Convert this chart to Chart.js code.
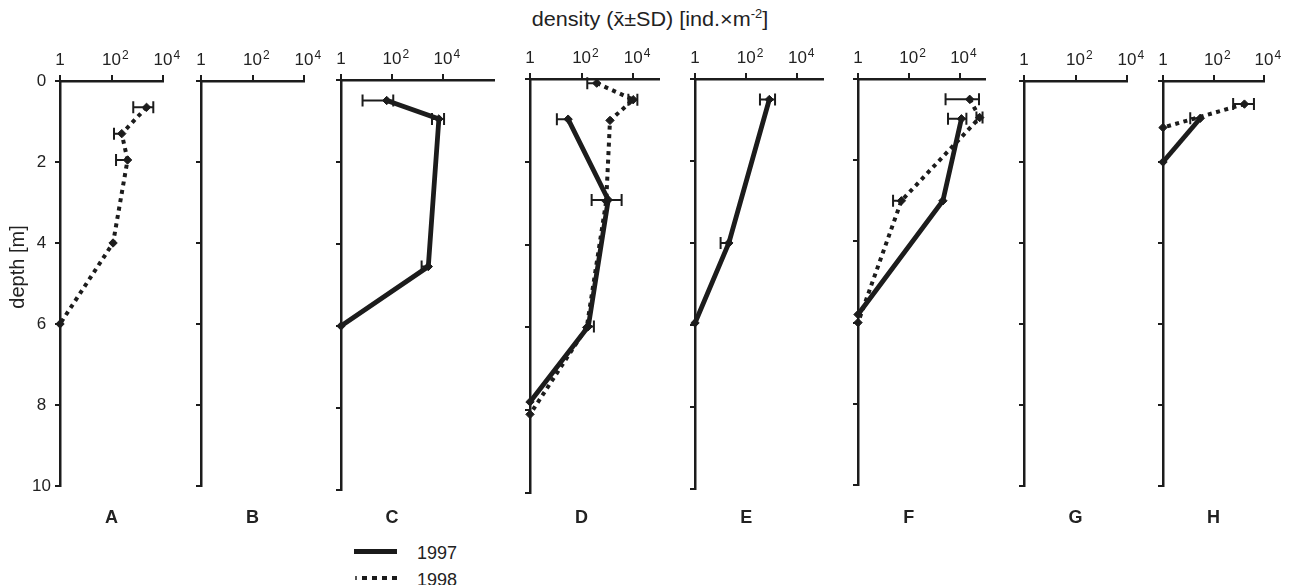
<!DOCTYPE html>
<html>
<head>
<meta charset="utf-8">
<script src="https://cdn.jsdelivr.net/npm/chart.js@4.4.1/dist/chart.umd.min.js"></script>
<style>
  html, body { margin:0; padding:0; background:#fff; }
  body { width:1290px; height:585px; position:relative; overflow:hidden;
         font-family:"Liberation Sans", Arial, Helvetica, sans-serif; color:#222; }
  canvas { position:absolute; }
  #title { position:absolute; left:650px; top:8px; transform:translateX(-50%) scaleX(1.08);
           font-size:20px; line-height:22px; white-space:nowrap; }
  #title sup { font-size:12px; vertical-align:8px; line-height:0; }
  .lg-text { position:absolute; left:417px; font-size:18px; line-height:20px; }
  .lg-solid { position:absolute; left:354px; top:549px; width:43px; height:5px; background:#1a1a1a; }
  .lg-dot { position:absolute; left:362px; top:576px; width:35px; height:4px;
            background:repeating-linear-gradient(to right,#1a1a1a 0 5px,transparent 5px 10px); }
  .lg-dot0 { position:absolute; left:355px; top:576px; width:2px; height:4px; background:#555; }
</style>
</head>
<body>
<div id="title">density (x&#772;±SD) [ind.×m<sup>-2</sup>]</div>
<div class="lg-solid"></div>
<div class="lg-text" style="top:543px">1997</div>
<div class="lg-dot0"></div>
<div class="lg-dot"></div>
<div class="lg-text" style="top:570px">1998</div>

<script>
// ---------------- DATA ----------------
const panelIds   = ['A','B','C','D','E','F','G','H'];
const xMax       = [1e4, 1e4, 1e6, 1e5, 1e5, 1e5, 1e4, 1e4];
const tickValues = [1, 100, 10000];
const tickBase   = ['1', '10', '10'];
const tickExp    = ['', '2', '4'];
const depthTicks = [0, 2, 4, 6, 8, 10];
const years      = ['1997', '1998'];
const yTitle     = 'depth [m]';

// Panel A, 1998
const depthA98 = [0.65, 1.3, 1.95, 4.0, 6.0];
const valA98   = [2300, 250, 420, 115, 1];
const loA98    = [700, 125, 150, null, null];
const hiA98    = [4200, null, null, null, null];

// Panel C, 1997
const depthC97 = [0.5, 0.95, 4.55, 6.0];
const valC97   = [62, 6900, 2650, 1];
const loC97    = [7, 3700, 1450, null];
const hiC97    = [112, 11000, null, null];

// Panel D, 1997
const depthD97 = [0.97, 2.92, 5.98, 7.8];
const valD97   = [30, 1080, 182, 1];
const loD97    = [11, 245, null, null];
const hiD97    = [null, 3560, 300, null];
// Panel D, 1998
const depthD98 = [0.1, 0.5, 1.0, 2.95, 6.0, 8.1];
const valD98   = [385, 10000, 1260, 900, 158, 1];
const loD98    = [166, 6500, null, null, null, null];
const hiD98    = [null, 14500, null, null, null, null];

// Panel E, 1997
const depthE97 = [0.5, 4.0, 5.95];
const valE97   = [800, 21, 1];
const loE97    = [345, 10, null];
const hiE97    = [1340, null, null];

// Panel F, 1997
const depthF97 = [0.98, 3.0, 5.8];
const valF97   = [11800, 2200, 1];
const loF97    = [3500, null, null];
const hiF97    = [18500, null, null];
// Panel F, 1998
const depthF98 = [0.5, 0.95, 3.0, 6.0];
const valF98   = [25000, 62000, 51, 1];
const loF98    = [2800, 46000, 24, null];
const hiF98    = [58000, 80000, null, null];

// Panel H, 1997
const depthH97 = [0.92, 2.0];
const valH97   = [30, 1];
const loH97    = [12, null];
const hiH97    = [null, null];
// Panel H, 1998
const depthH98 = [0.57, 1.15];
const valH98   = [1680, 1];
const loH98    = [600, null];
const hiH98    = [4000, null];

const series = {
  A: [{year:years[1], depth:depthA98, val:valA98, lo:loA98, hi:hiA98}],
  B: [],
  C: [{year:years[0], depth:depthC97, val:valC97, lo:loC97, hi:hiC97}],
  D: [{year:years[0], depth:depthD97, val:valD97, lo:loD97, hi:hiD97},
      {year:years[1], depth:depthD98, val:valD98, lo:loD98, hi:hiD98}],
  E: [{year:years[0], depth:depthE97, val:valE97, lo:loE97, hi:hiE97}],
  F: [{year:years[0], depth:depthF97, val:valF97, lo:loF97, hi:hiF97},
      {year:years[1], depth:depthF98, val:valF98, lo:loF98, hi:hiF98}],
  G: [],
  H: [{year:years[0], depth:depthH97, val:valH97, lo:loH97, hi:hiH97},
      {year:years[1], depth:depthH98, val:valH98, lo:loH98, hi:hiH98}]
};

// ---------------- LAYOUT ----------------
const layoutPx = {
  A:{x0:60,   dec:25.75, top:81, bottom:486},
  B:{x0:201,  dec:25.75, top:81, bottom:486},
  C:{x0:341,  dec:25.5,  top:80, bottom:490},
  D:{x0:530,  dec:25.8,  top:79, bottom:493},
  E:{x0:695,  dec:25.6,  top:79, bottom:489},
  F:{x0:858,  dec:25.4,  top:79, bottom:485},
  G:{x0:1024, dec:25.8,  top:81, bottom:486},
  H:{x0:1163, dec:25.3,  top:81, bottom:486}
};
const LABEL_Y = 518;
const YTITLE_X = 18, YTITLE_Y = 267;
const INK = '#1c1c1c';
const FONT = "'Liberation Sans', Arial, Helvetica, sans-serif";

Chart.defaults.font.family = FONT;
Chart.defaults.color = '#222';

const errorBars = {
  id: 'errorBars',
  afterDatasetsDraw(chart) {
    const {ctx, scales:{x, y}} = chart;
    ctx.save();
    ctx.strokeStyle = INK;
    ctx.lineWidth = 2;
    ctx.setLineDash([]);
    chart.data.datasets.forEach(ds => {
      if (!ds.errLo) return;
      ds.data.forEach((p, i) => {
        const lo = ds.errLo[i], hi = ds.errHi[i];
        if (lo == null && hi == null) return;
        const px = x.getPixelForValue(p.x), py = y.getPixelForValue(p.y);
        const l = lo != null ? x.getPixelForValue(lo) : px;
        const r = hi != null ? x.getPixelForValue(hi) : px;
        ctx.beginPath();
        ctx.moveTo(l, py); ctx.lineTo(r, py);
        if (lo != null) { ctx.moveTo(l, py - 6); ctx.lineTo(l, py + 6); }
        if (hi != null) { ctx.moveTo(r, py - 6); ctx.lineTo(r, py + 6); }
        ctx.stroke();
      });
    });
    ctx.restore();
  }
};

// x tick labels "10" with a raised exponent, placed through the log scale
const powerTicks = {
  id: 'powerTicks',
  afterDraw(chart) {
    const {ctx} = chart;
    const xs = chart.scales.x;
    const base = chart.chartArea.top - 16;
    ctx.save();
    ctx.fillStyle = '#222';
    ctx.textBaseline = 'alphabetic';
    tickValues.forEach((v, i) => {
      const px = xs.getPixelForValue(v);
      ctx.font = '17px ' + FONT;
      ctx.textAlign = 'center';
      ctx.fillText(tickBase[i], px, base);
      if (tickExp[i]) {
        const w = ctx.measureText(tickBase[i]).width;
        ctx.font = '12px ' + FONT;
        ctx.textAlign = 'left';
        ctx.fillText(tickExp[i], px + w / 2 + 1, base - 6);
      }
    });
    ctx.restore();
  }
};

const panelLabel = {
  id: 'panelLabel',
  afterDraw(chart, args, opts) {
    const {ctx} = chart;
    const x = chart.scales.x.getPixelForValue(100);
    ctx.save();
    ctx.font = 'bold 18px ' + FONT;
    ctx.fillStyle = '#222';
    ctx.textAlign = 'center';
    ctx.textBaseline = 'middle';
    ctx.fillText(opts.text, x, opts.y);
    if (opts.yTitle) {
      ctx.translate(opts.yTitle.x, opts.yTitle.y);
      ctx.rotate(-Math.PI / 2);
      ctx.font = '20px ' + FONT;
      ctx.fillText(yTitle, 0, 0);
    }
    ctx.restore();
  }
};

panelIds.forEach((id, idx) => {
  const L = layoutPx[id];
  const isFirst = id === 'A';
  const W = isFirst ? 60 : 20;
  const TOPH = 45, BOTP = 45, RP = 22;
  const areaW = L.dec * Math.log10(xMax[idx]);
  const areaH = L.bottom - L.top;
  const cw = Math.round(W + areaW + RP);
  const ch = Math.round(TOPH + areaH + BOTP);
  const cv = document.createElement('canvas');
  cv.width = cw; cv.height = ch;
  cv.style.width = cw + 'px'; cv.style.height = ch + 'px';
  const cTop = L.top - TOPH;
  const cLeft = Math.round(L.x0 - W);
  cv.style.left = cLeft + 'px';
  cv.style.top = cTop + 'px';
  document.body.appendChild(cv);

  const datasets = series[id].map(s => {
    const dotted = s.year === '1998';
    return {
      label: s.year,
      data: s.depth.map((d, i) => ({x: s.val[i], y: d})),
      errLo: s.lo, errHi: s.hi,
      borderColor: INK,
      backgroundColor: INK,
      borderWidth: dotted ? 4 : 4.8,
      borderDash: dotted ? [4, 4.5] : [],
      borderCapStyle: 'butt',
      borderJoinStyle: 'miter',
      pointStyle: 'rectRot',
      pointRadius: 4.2,
      pointBorderWidth: 1,
      pointBackgroundColor: INK,
      pointBorderColor: INK,
      tension: 0,
      clip: false
    };
  });

  new Chart(cv, {
    type: 'line',
    data: { datasets },
    plugins: [errorBars, powerTicks, panelLabel],
    options: {
      responsive: false,
      animation: false,
      events: [],
      layout: { padding: { left: 0, right: RP, top: 0, bottom: BOTP } },
      plugins: {
        legend: { display: false },
        tooltip: { enabled: false },
        panelLabel: {
          text: id, y: LABEL_Y - cTop,
          yTitle: isFirst ? {x: YTITLE_X - cLeft, y: YTITLE_Y - cTop} : null
        }
      },
      scales: {
        x: {
          type: 'logarithmic',
          position: 'top',
          min: 1,
          max: xMax[idx],
          afterBuildTicks: s => { s.ticks = tickValues.map(v => ({value: v})); },
          afterFit: s => { s.height = TOPH; },
          ticks: { display: false, autoSkip: false },
          grid: { drawOnChartArea: false, drawTicks: true, tickLength: 6,
                  lineWidth: 2, color: INK },
          border: { display: true, color: INK, width: 2.5 }
        },
        y: {
          type: 'linear',
          position: 'left',
          reverse: true,
          min: 0, max: 10,
          afterBuildTicks: s => { s.ticks = depthTicks.map(v => ({value: v})); },
          afterFit: s => { s.width = W; },
          ticks: {
            display: isFirst, padding: 4, crossAlign: 'center',
            font: { size: 17 }, color: '#222'
          },
          grid: { drawOnChartArea: false, drawTicks: true, tickLength: 5,
                  lineWidth: 2, color: INK },
          border: { display: true, color: INK, width: 2.5 }
        }
      }
    }
  });
});
</script>
</body>
</html>
